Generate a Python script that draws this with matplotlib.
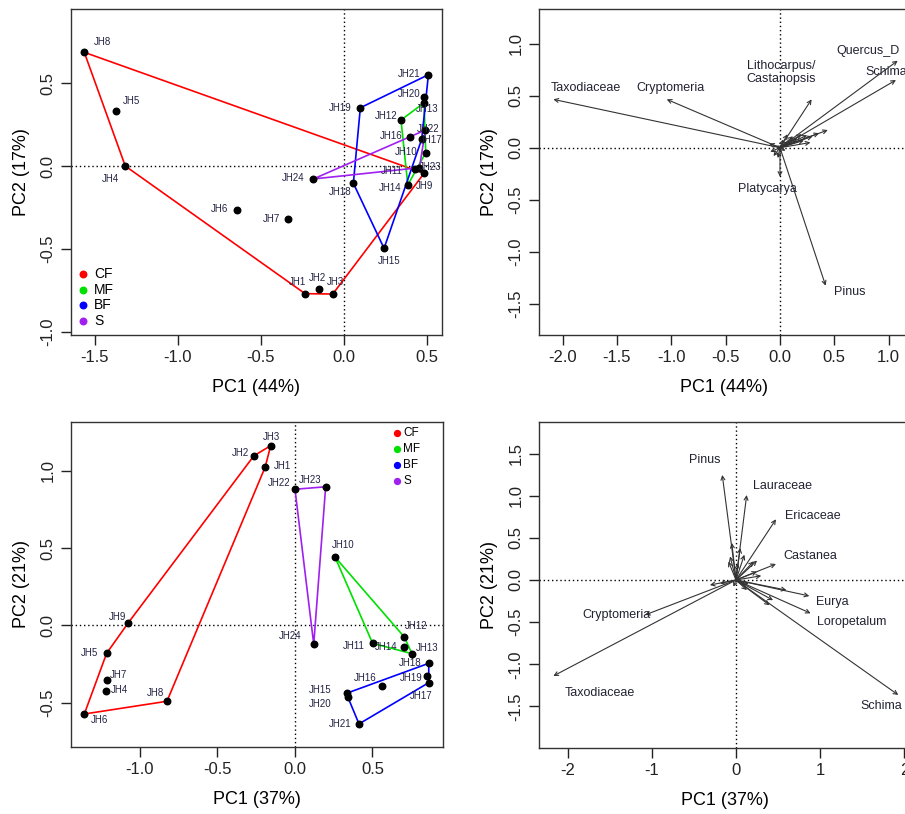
import matplotlib
matplotlib.use('Agg')
import matplotlib.pyplot as plt

plt.rcParams['font.family'] = ['Liberation Sans', 'DejaVu Sans']
plt.rcParams['axes.unicode_minus'] = False

# ---- sample scores (PCA) ----
sites = ['JH%d' % i for i in range(1, 25)]
groups = ['CF'] * 9 + ['MF'] * 5 + ['BF'] * 7 + ['S'] * 3
group_names = ['CF', 'MF', 'BF', 'S']
group_colors = {'CF': '#FF0000', 'MF': '#00E000', 'BF': '#0000FF', 'S': '#A020F0'}

# panel a (PC1 44%, PC2 17%)
pc1_a = [-0.233, -0.149, -0.066, -1.316, -1.374, -0.645, -0.334, -1.563, 0.484,
         0.494, 0.430, 0.345, 0.484, 0.386,
         0.243, 0.400, 0.470, 0.058, 0.100, 0.484, 0.510,
         0.492, 0.456, -0.183]
pc2_a = [-0.769, -0.743, -0.771, 0.000, 0.330, -0.265, -0.321, 0.685, -0.044,
         0.080, -0.020, 0.277, 0.381, -0.114,
         -0.496, 0.177, 0.163, -0.104, 0.351, 0.418, 0.550,
         0.217, -0.010, -0.078]

# panel c (PC1 37%, PC2 21%)
pc1_c = [-0.192, -0.265, -0.157, -1.219, -1.215, -1.359, -1.215, -0.826, -1.075,
         0.258, 0.501, 0.705, 0.755, 0.705,
         0.334, 0.563, 0.863, 0.863, 0.852, 0.340, 0.413,
         0.000, 0.198, 0.121]
pc2_c = [1.023, 1.095, 1.160, -0.421, -0.179, -0.571, -0.352, -0.489, 0.018,
         0.442, -0.115, -0.074, -0.182, -0.141,
         -0.437, -0.390, -0.369, -0.244, -0.324, -0.459, -0.635,
         0.879, 0.895, -0.121]

# ---- taxa loadings (biplot arrows) ----
taxa_b = ['Taxodiaceae', 'Cryptomeria', 'Lithocarpus/\nCastanopsis', 'Quercus_D',
          'Schima', 'Platycarya', 'Pinus']
load1_b = [-2.085, -1.042, 0.291, 1.083, 1.067, 0.000, 0.420]
load2_b = [0.465, 0.465, 0.465, 0.837, 0.651, -0.279, -1.327]
minor1_b = [0.44, 0.36, 0.30, 0.25, 0.20, 0.16, 0.12, 0.09, 0.28, 0.22,
            -0.10, -0.09, -0.06, -0.04, 0.05, 0.07, 0.03, -0.02]
minor2_b = [0.17, 0.14, 0.11, 0.12, 0.13, 0.09, 0.11, 0.06, 0.05, 0.07,
            0.04, -0.04, -0.08, 0.02, -0.03, 0.13, 0.08, -0.10]

taxa_d = ['Pinus', 'Lauraceae', 'Ericaceae', 'Castanea', 'Eurya', 'Loropetalum',
          'Cryptomeria', 'Taxodiaceae', 'Schima']
load1_d = [-0.163, 0.127, 0.475, 0.475, 0.871, 0.887, -1.081, -2.170, 1.928]
load2_d = [1.246, 1.008, 0.720, 0.190, -0.190, -0.395, -0.415, -1.139, -1.364]
minor1_d = [-0.05, 0.05, -0.07, 0.25, 0.21, 0.25, 0.60, 0.44, 0.13, -0.31,
            -0.19, -0.09, 0.30, 0.10, 0.02, 0.40, 0.15, -0.03]
minor2_d = [0.44, 0.38, 0.28, 0.23, 0.22, 0.10, -0.12, -0.24, -0.12, -0.06,
            -0.04, 0.22, 0.05, 0.30, 0.20, -0.30, -0.05, -0.08]

# label placement (pixels offset from point)
off_a = {'JH1': (-8, 12), 'JH2': (-2, 11), 'JH3': (3, 12), 'JH4': (-15, -13),
         'JH5': (16, 10), 'JH6': (-17, 1), 'JH7': (-17, 0), 'JH8': (18, 10),
         'JH9': (0, -13), 'JH10': (-20, 1), 'JH11': (-23, -2), 'JH12': (-15, 4),
         'JH13': (3, -6), 'JH14': (-18, -3), 'JH15': (5, -13), 'JH16': (-19, 1),
         'JH17': (9, -1), 'JH18': (-13, -9), 'JH19': (-20, 0), 'JH20': (-15, 3),
         'JH21': (-19, 1), 'JH22': (3, 1), 'JH23': (11, 1), 'JH24': (-20, 1)}
off_c = {'JH1': (17, 1), 'JH2': (-13, 3), 'JH3': (1, 9), 'JH4': (13, 1),
         'JH5': (-17, 0), 'JH6': (15, -6), 'JH7': (12, 5), 'JH8': (-11, 8),
         'JH9': (-11, 6), 'JH10': (8, 12), 'JH11': (-19, -3), 'JH12': (12, 11),
         'JH13': (15, 6), 'JH14': (-18, 0), 'JH15': (-27, 3), 'JH16': (-17, 8),
         'JH17': (-8, -13), 'JH18': (-19, 0), 'JH19': (-16, -2), 'JH20': (-28, -7),
         'JH21': (-19, 0), 'JH22': (-16, 6), 'JH23': (-16, 7), 'JH24': (-24, 8)}
lab_b = [(-1.79, 0.57), (-1.01, 0.57), (0.015, 0.72), (0.81, 0.93), (0.98, 0.73),
         (-0.12, -0.40), (0.64, -1.39)]
lab_d = [(-0.37, 1.42), (0.55, 1.11), (0.91, 0.76), (0.88, 0.28), (1.14, -0.26),
         (1.37, -0.50), (-1.42, -0.42), (-1.62, -1.34), (1.72, -1.50)]


def hull(pts):
    pts = sorted(set(pts))
    if len(pts) < 3:
        return pts

    def cross(o, a, b):
        return (a[0] - o[0]) * (b[1] - o[1]) - (a[1] - o[1]) * (b[0] - o[0])
    lower, upper = [], []
    for p in pts:
        while len(lower) >= 2 and cross(lower[-2], lower[-1], p) <= 0:
            lower.pop()
        lower.append(p)
    for p in reversed(pts):
        while len(upper) >= 2 and cross(upper[-2], upper[-1], p) <= 0:
            upper.pop()
        upper.append(p)
    return lower[:-1] + upper[:-1]


def style_axes(ax, xticks, yticks, xfmt, yfmt, xlabel, ylabel):
    ax.set_xticks(xticks)
    ax.set_yticks(yticks)
    ax.set_xticklabels([xfmt % v for v in xticks])
    ax.set_yticklabels([yfmt % v for v in yticks])
    for lab in ax.get_yticklabels():
        lab.set_rotation(90)
        lab.set_va('center')
    ax.tick_params(direction='out', length=7, width=1, labelsize=12, pad=4, colors='#222222')
    for s in ax.spines.values():
        s.set_linewidth(1.0)
        s.set_color('#333333')
    ax.set_xlabel(xlabel, fontsize=13, labelpad=10)
    ax.set_ylabel(ylabel, fontsize=13, labelpad=8)
    ax.axhline(0, color='black', linestyle=(0, (1, 2)), lw=1, zorder=1)
    ax.axvline(0, color='black', linestyle=(0, (1, 2)), lw=1, zorder=1)


def site_panel(ax, x, y, offs):
    for g in group_names:
        pts = [(x[i], y[i]) for i in range(len(sites)) if groups[i] == g]
        h = hull(pts)
        h = h + [h[0]]
        ax.plot([p[0] for p in h], [p[1] for p in h], color=group_colors[g], lw=1.2, zorder=2)
    ax.scatter(x, y, s=22, color='black', zorder=3)
    for i, s in enumerate(sites):
        ax.annotate(s, (x[i], y[i]), xytext=offs[s], textcoords='offset pixels',
                    ha='center', va='center', fontsize=7, color='#222244')


def biplot_panel(ax, names, lx, ly, mx, my, labpos):
    props = dict(arrowstyle='->', lw=0.8, color='#333333', shrinkA=0, shrinkB=0,
                 mutation_scale=7)
    for a, b in zip(mx, my):
        ax.annotate('', xy=(a, b), xytext=(0, 0), arrowprops=props, zorder=2)
    for a, b in zip(lx, ly):
        ax.annotate('', xy=(a, b), xytext=(0, 0), arrowprops=props, zorder=2)
    for n, (tx, ty) in zip(names, labpos):
        ax.text(tx, ty, n, ha='center', va='center', fontsize=9, color='#222233',
                linespacing=1.1)


W, H = 905, 814
fig = plt.figure(figsize=(W / 100, H / 100), dpi=100)


def add_ax(l, r, t, b):
    return fig.add_axes([l / W, (H - b) / H, (r - l) / W, (b - t) / H])


ax1 = add_ax(71, 442, 9, 335)
ax2 = add_ax(539, 910, 9, 335)
ax3 = add_ax(71, 443, 422, 747)
ax4 = add_ax(539, 910, 422, 748)

# panel a
site_panel(ax1, pc1_a, pc2_a, off_a)
ax1.set_xlim(-1.643, 0.592)
ax1.set_ylim(-1.018, 0.946)
style_axes(ax1, [-1.5, -1.0, -0.5, 0.0, 0.5], [-1.0, -0.5, 0.0, 0.5], '%.1f', '%.1f',
           'PC1 (44%)', 'PC2 (17%)')
for k, g in enumerate(group_names):
    ax1.scatter([-1.57], [-0.65 - k * 0.0945], s=22, color=group_colors[g], zorder=3)
    ax1.text(-1.505, -0.65 - k * 0.0945, g, fontsize=10, va='center', ha='left')

# panel b
biplot_panel(ax2, taxa_b, load1_b, load2_b, minor1_b, minor2_b, lab_b)
ax2.set_xlim(-2.217, 1.196)
ax2.set_ylim(-1.801, 1.334)
style_axes(ax2, [-2.0, -1.5, -1.0, -0.5, 0.0, 0.5, 1.0], [-1.5, -1.0, -0.5, 0.0, 0.5, 1.0],
           '%.1f', '%.1f', 'PC1 (44%)', 'PC2 (17%)')

# panel c
site_panel(ax3, pc1_c, pc2_c, off_c)
ax3.set_xlim(-1.445, 0.955)
ax3.set_ylim(-0.784, 1.313)
style_axes(ax3, [-1.0, -0.5, 0.0, 0.5], [-0.5, 0.0, 0.5, 1.0], '%.1f', '%.1f',
           'PC1 (37%)', 'PC2 (21%)')
for k, g in enumerate(group_names):
    yk = 1.245 - k * 0.105
    ax3.scatter([0.658], [yk], s=18, color=group_colors[g], zorder=3)
    ax3.text(0.70, yk, g, fontsize=8.5, va='center', ha='left')

# panel d
biplot_panel(ax4, taxa_d, load1_d, load2_d, minor1_d, minor2_d, lab_d)
ax4.set_xlim(-2.340, 2.067)
ax4.set_ylim(-1.993, 1.874)
style_axes(ax4, [-2, -1, 0, 1, 2], [-1.5, -1.0, -0.5, 0.0, 0.5, 1.0, 1.5], '%d', '%.1f',
           'PC1 (37%)', 'PC2 (21%)')

fig.savefig('out.png', dpi=100)
